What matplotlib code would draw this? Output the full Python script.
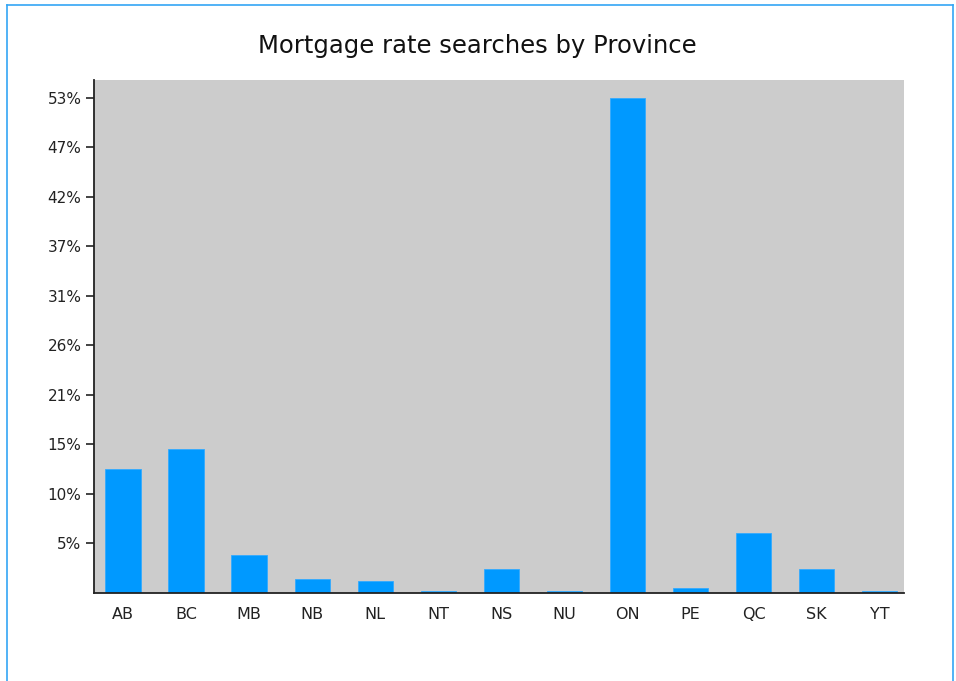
#! /usr/bin/env python3
import numpy as np
import matplotlib
matplotlib.use("Agg")
import matplotlib.pyplot as plt
from matplotlib.lines import Line2D

provinces = ["AB", "BC", "MB", "NB", "NL", "NT", "NS", "NU", "ON", "PE", "QC", "SK", "YT"]
share = [13.3, 15.5, 4.05, 1.47, 1.26, 0.18, 2.58, 0.18, 53.2, 0.57, 6.4, 2.58, 0.18]


def main():
    fig = plt.figure(figsize=(9.56, 6.81), dpi=100)
    ax = fig.add_axes([0.0983, 0.1292, 0.8477, 0.7533])
    ax.set_facecolor("#cccccc")

    x = np.arange(len(provinces))
    ax.bar(x, share, width=0.56, color="#0099ff", edgecolor="#33aaff", linewidth=0.6, zorder=2)

    # ticks split the max value into ten steps, labels truncated to whole percent
    top = max(share)
    yt = np.linspace(0, top, 11)[1:]
    ax.set_yticks(yt)
    ax.set_yticklabels(["{}%".format(int(v)) for v in yt])
    ax.set_xticks(x)
    ax.set_xticklabels(provinces)
    ax.set_xlim(-0.46, 12.39)
    ax.set_ylim(0, 55.1)

    for s in ["top", "right"]:
        ax.spines[s].set_visible(False)
    for s in ["left", "bottom"]:
        ax.spines[s].set_color("#222222")
        ax.spines[s].set_linewidth(1.3)
    ax.tick_params(axis="y", length=6, width=1.2, color="#222222", labelsize=11, labelcolor="#222222", pad=3)
    ax.tick_params(axis="x", length=0, labelsize=11.5, labelcolor="#222222", pad=10)

    fig.text(0.499, 0.932, "Mortgage rate searches by Province", ha="center", va="center",
             fontsize=17.5, color="#111111")

    # light blue frame around the chart
    fc = "#33a6f5"
    fig.add_artist(Line2D([0.0075, 0.0075], [0, 0.9925], color=fc, lw=1.2, transform=fig.transFigure))
    fig.add_artist(Line2D([0.0075, 0.9965], [0.9925, 0.9925], color=fc, lw=1.2, transform=fig.transFigure))
    fig.add_artist(Line2D([0.9965, 0.9965], [0, 0.9925], color=fc, lw=1.2, transform=fig.transFigure))

    fig.savefig("out.png", dpi=100)


if __name__ == "__main__":
    main()
